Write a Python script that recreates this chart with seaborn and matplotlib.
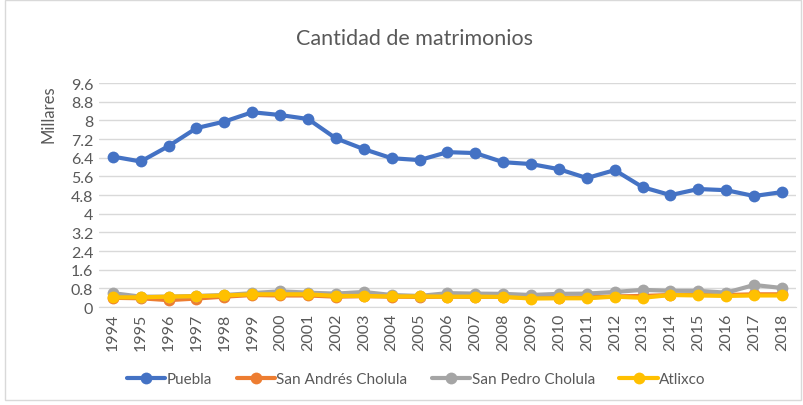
import matplotlib
matplotlib.use("Agg")
import matplotlib.pyplot as plt
import pandas as pd
import seaborn as sns
from matplotlib.patches import Rectangle

years = list(range(1994, 2019))
puebla = [6.45, 6.24, 6.90, 7.67, 7.95, 8.35, 8.23, 8.06, 7.23, 6.77, 6.38, 6.30,
          6.64, 6.60, 6.21, 6.13, 5.91, 5.53, 5.87, 5.14, 4.80, 5.06, 5.01, 4.76, 4.93]
san_andres = [0.40, 0.38, 0.30, 0.37, 0.45, 0.52, 0.50, 0.50, 0.45, 0.47, 0.45, 0.44,
              0.45, 0.44, 0.44, 0.40, 0.40, 0.42, 0.46, 0.48, 0.52, 0.55, 0.52, 0.55, 0.55]
san_pedro = [0.60, 0.45, 0.45, 0.48, 0.52, 0.60, 0.68, 0.62, 0.58, 0.65, 0.52, 0.48,
             0.60, 0.58, 0.57, 0.52, 0.57, 0.58, 0.65, 0.74, 0.70, 0.70, 0.62, 0.95, 0.82]
atlixco = [0.42, 0.42, 0.45, 0.47, 0.50, 0.55, 0.55, 0.55, 0.48, 0.48, 0.46, 0.46,
           0.45, 0.45, 0.44, 0.37, 0.38, 0.38, 0.45, 0.40, 0.52, 0.50, 0.48, 0.50, 0.50]

series = {
    "Puebla": puebla,
    "San Andrés Cholula": san_andres,
    "San Pedro Cholula": san_pedro,
    "Atlixco": atlixco,
}
colors = ["#4472C4", "#ED7D31", "#A5A5A5", "#FFC000"]

rows = []
for name, vals in series.items():
    for i, v in enumerate(vals):
        rows.append({"idx": i, "valor": v, "serie": name})
df = pd.DataFrame(rows)

sns.set_style("white")
plt.rcParams["font.family"] = ["Lato", "DejaVu Sans"]

fig = plt.figure(figsize=(8.04, 4.06), dpi=100)
ax = fig.add_axes([0.123, 0.241, 0.867, 0.552])

sns.lineplot(data=df, x="idx", y="valor", hue="serie", palette=colors,
             marker="o", markersize=8.5, markeredgewidth=0, linewidth=3,
             ax=ax, legend=True)

ax.set_xlim(-0.5, len(years) - 0.5)
ax.set_ylim(0, 9.6)
yt = [round(0.8 * i, 1) for i in range(13)]
ax.set_yticks(yt)
ax.set_yticklabels([("%g" % v) for v in yt], fontsize=11.5, color="#595959")
ax.set_xticks(range(len(years)))
ax.set_xticklabels([str(y) for y in years], rotation=90, fontsize=11.5, color="#595959")
ax.tick_params(axis="both", length=0, pad=4)
ax.grid(axis="y", color="#D9D9D9", linewidth=1)
ax.set_axisbelow(True)
for s in ["top", "right", "left"]:
    ax.spines[s].set_visible(False)
ax.spines["bottom"].set_color("#D9D9D9")
ax.set_xlabel("")
ax.set_ylabel("")

fig.text(0.06, 0.79, "Millares", rotation=90, fontsize=12, color="#595959",
         ha="center", va="top")
fig.text(0.515, 0.905, "Cantidad de matrimonios", fontsize=15.5, color="#595959",
         ha="center", va="center")

handles, labels = ax.get_legend_handles_labels()
ax.legend(handles, labels, loc="center", bbox_to_anchor=(0.518, 0.064),
          bbox_transform=fig.transFigure, ncol=4, frameon=False, fontsize=11,
          handlelength=2.5, columnspacing=1.6, handletextpad=0.1, labelcolor="#595959")

fig.patches.append(Rectangle((0.006, 0.012), 0.99, 0.985, transform=fig.transFigure,
                             fill=False, edgecolor="#D9D9D9", linewidth=1))

fig.savefig("out.png", dpi=100)
